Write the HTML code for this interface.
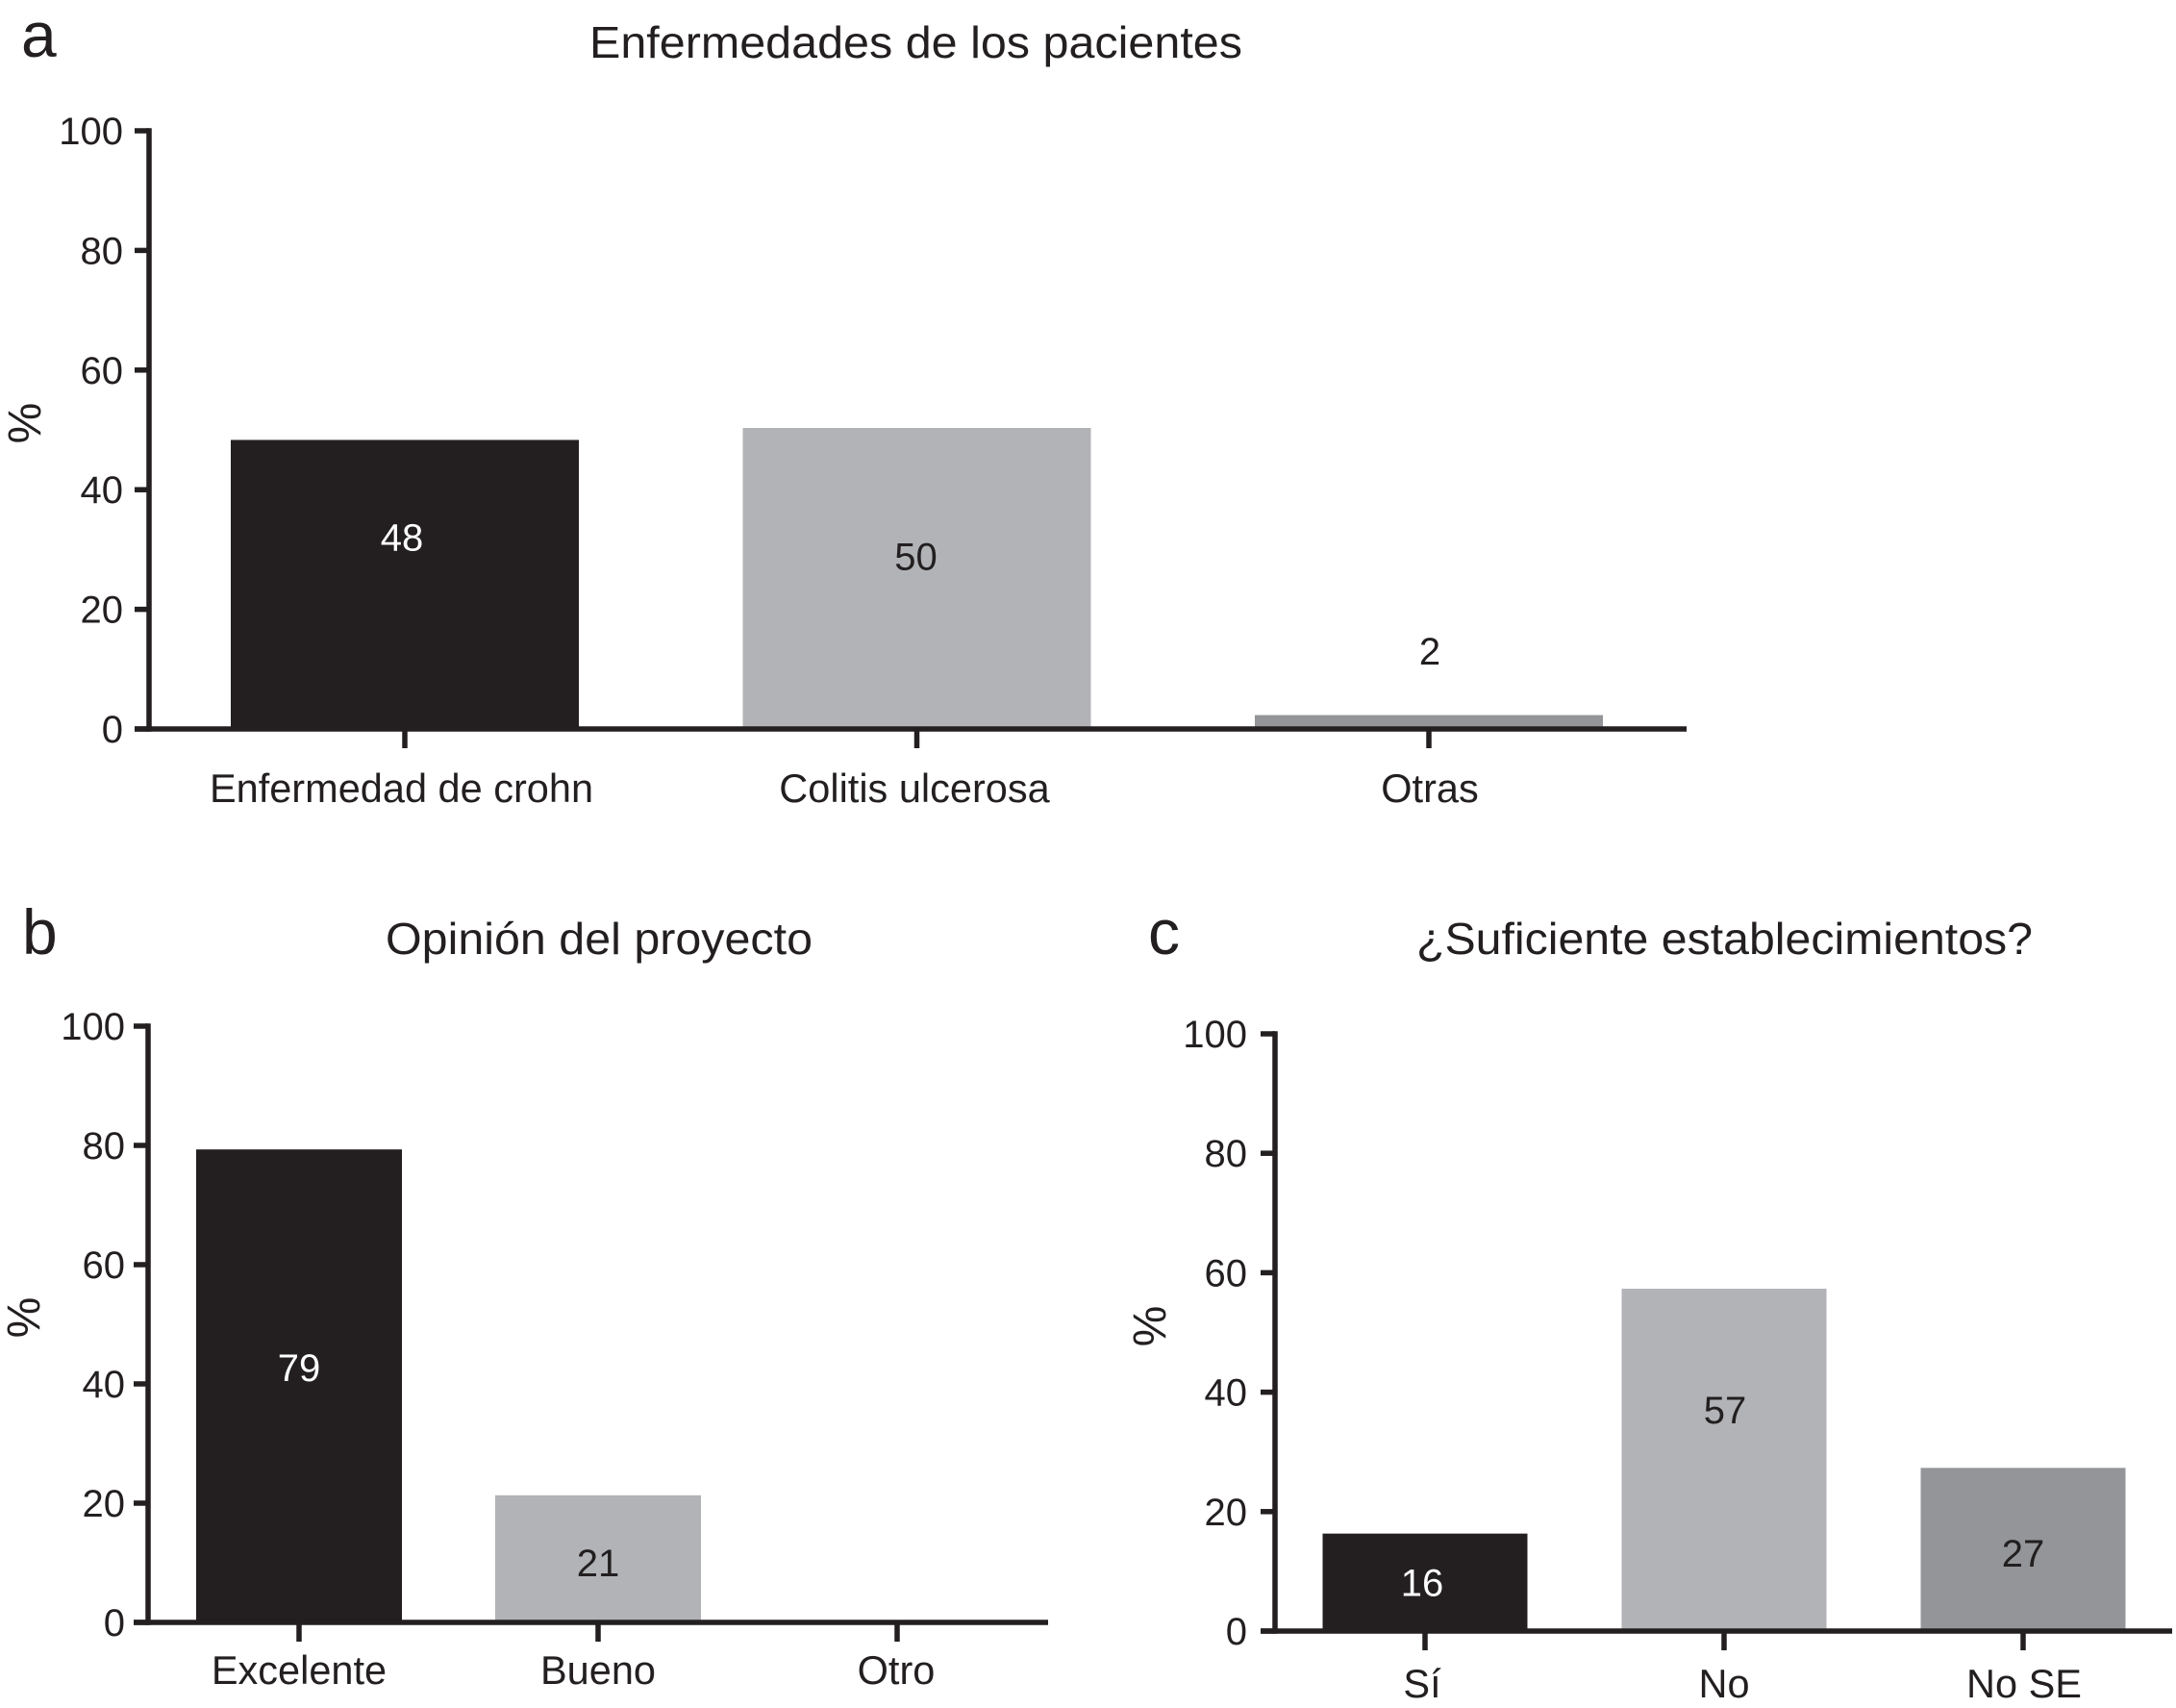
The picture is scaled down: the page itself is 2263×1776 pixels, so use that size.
<!DOCTYPE html>
<html lang="es">
<head>
<meta charset="utf-8">
<title>Enfermedades de los pacientes, opinión del proyecto y establecimientos</title>
<style>
  html, body { margin: 0; padding: 0; background: #fff; }
  svg { display: block; }
  text { font-family: "Liberation Sans", sans-serif; fill: #231f20; }
</style>
</head>
<body>
<svg id="figure" xmlns="http://www.w3.org/2000/svg" width="2263" height="1776" viewBox="0 0 2263 1776">
  <rect x="0" y="0" width="2263" height="1776" fill="#fff"/>

  <text x="22" y="59" font-size="66">a</text>
  <text x="613" y="60" font-size="46" textLength="679" lengthAdjust="spacingAndGlyphs">Enfermedades de los pacientes</text>

  <text x="23" y="992" font-size="66">b</text>
  <text x="401" y="992" font-size="46" textLength="444" lengthAdjust="spacingAndGlyphs">Opinión del proyecto</text>

  <text x="1194" y="992" font-size="66">c</text>
  <text x="1473" y="992" font-size="46" textLength="641" lengthAdjust="spacingAndGlyphs">¿Suficiente establecimientos?</text>
</svg>

<script>
// Chart data
const yTickValues = [0, 20, 40, 60, 80, 100];

const categoriesA = ["Enfermedad de crohn", "Colitis ulcerosa", "Otras"];
const valuesA = [48, 50, 2];

const categoriesB = ["Excelente", "Bueno", "Otro"];
const valuesB = [79, 21, 0];

const categoriesC = ["Sí", "No", "No SE"];
const valuesC = [16, 57, 27];

const yAxisTitle = "%";

// Styling
const INK = "#231f20";
const barShades = [INK, "#b1b3b6", "#939598"];
const labelShades = ["#ffffff", INK, INK];
const AXIS_WIDTH = 5.5;
const TICK_FONT = 40;
const CATEGORY_FONT = 41.5;
const BAR_OVERDRAW = 2;
const SVG_NS = "http://www.w3.org/2000/svg";
const figure = document.getElementById("figure");

function make(tag, parent, attrs) {
  const node = document.createElementNS(SVG_NS, tag);
  for (const key in attrs) node.setAttribute(key, attrs[key]);
  parent.appendChild(node);
  return node;
}

function slug(text) {
  return String(text).toLowerCase().normalize("NFD").replace(/[^a-z0-9]+/g, "-");
}

function drawPanel(panel) {
  const yScale = v => panel.y0 - (v / 100) * (panel.y0 - panel.y100);
  const xScale = i => panel.firstCenter + i * panel.step;

  const group = make("g", figure, {});
  
  

  // Bars
  panel.values.forEach((value, i) => {
    if (value <= 0) return;
    const top = yScale(value) - BAR_OVERDRAW;
    const bar = make("rect", group, {
      x: xScale(i) - panel.barWidth / 2,
      y: top,
      width: panel.barWidth,
      height: panel.y0 - top,
      fill: barShades[i]
    });
    
    
  });

  // Y axis line
  const yAxis = make("line", group, {
    x1: panel.axisX, x2: panel.axisX,
    y1: panel.y100 - AXIS_WIDTH / 2, y2: panel.y0 + AXIS_WIDTH / 2,
    stroke: INK, "stroke-width": AXIS_WIDTH
  });
  
  

  // X axis line
  const xAxis = make("line", group, {
    x1: panel.axisX - 15, x2: panel.axisEnd,
    y1: panel.y0, y2: panel.y0,
    stroke: INK, "stroke-width": AXIS_WIDTH
  });
  
  

  // Y ticks and labels
  yTickValues.forEach(tick => {
    const mark = make("line", group, {
      x1: panel.axisX - 15, x2: panel.axisX,
      y1: yScale(tick), y2: yScale(tick),
      stroke: INK, "stroke-width": AXIS_WIDTH
    });
    
    

    const label = make("text", group, {
      x: panel.tickLabelX,
      y: yScale(tick) + 14,
      "text-anchor": "end",
      "font-size": TICK_FONT
    });
    label.textContent = tick;
    
    
  });

  // X ticks and category labels
  panel.categories.forEach((category, i) => {
    const mark = make("line", group, {
      x1: xScale(i), x2: xScale(i),
      y1: panel.y0, y2: panel.y0 + 20,
      stroke: INK, "stroke-width": AXIS_WIDTH
    });
    
    

    const label = make("text", group, {
      x: xScale(i) + panel.categoryNudge[i],
      y: panel.categoryBaseline,
      "text-anchor": "middle",
      "font-size": CATEGORY_FONT
    });
    label.textContent = category;
    
    
  });

  // Printed values
  panel.values.forEach((value, i) => {
    if (value <= 0) return;
    const label = make("text", group, {
      x: xScale(i) + panel.valueNudge[i],
      y: yScale(value / 2) + panel.valueLift[i],
      "text-anchor": "middle",
      "font-size": TICK_FONT
    });
    label.style.fill = labelShades[i];
    label.textContent = value;
    
    
  });

  // Y axis title
  const title = make("text", group, {
    transform: "translate(" + panel.titleX + "," + panel.titleY + ") rotate(-90)",
    "text-anchor": "middle",
    "font-size": 48
  });
  title.textContent = yAxisTitle;
  
  
}

drawPanel({
  id: "a", categories: categoriesA, values: valuesA,
  axisX: 155, axisEnd: 1754, y100: 136, y0: 758,
  firstCenter: 421, step: 532.5, barWidth: 362,
  tickLabelX: 128, categoryBaseline: 834,
  titleX: 42, titleY: 440,
  valueLift: [-36, -10, -61], valueNudge: [-3, -1, 1],
  categoryNudge: [-3.5, -2.5, 1]
});

drawPanel({
  id: "b", categories: categoriesB, values: valuesB,
  axisX: 154, axisEnd: 1090, y100: 1067, y0: 1687,
  firstCenter: 311, step: 311, barWidth: 214,
  tickLabelX: 130, categoryBaseline: 1751,
  titleX: 41, titleY: 1370,
  valueLift: [-6, 17, 0], valueNudge: [0, 0, 0],
  categoryNudge: [0, 0, -1]
});

drawPanel({
  id: "c", categories: categoriesC, values: valuesC,
  axisX: 1326, axisEnd: 2259, y100: 1075, y0: 1696,
  firstCenter: 1482, step: 311, barWidth: 213,
  tickLabelX: 1297, categoryBaseline: 1765,
  titleX: 1212, titleY: 1379,
  valueLift: [13, -39, 17], valueNudge: [-3, 1, 0],
  categoryNudge: [-3, 0, 1]
});
</script>
</body>
</html>
